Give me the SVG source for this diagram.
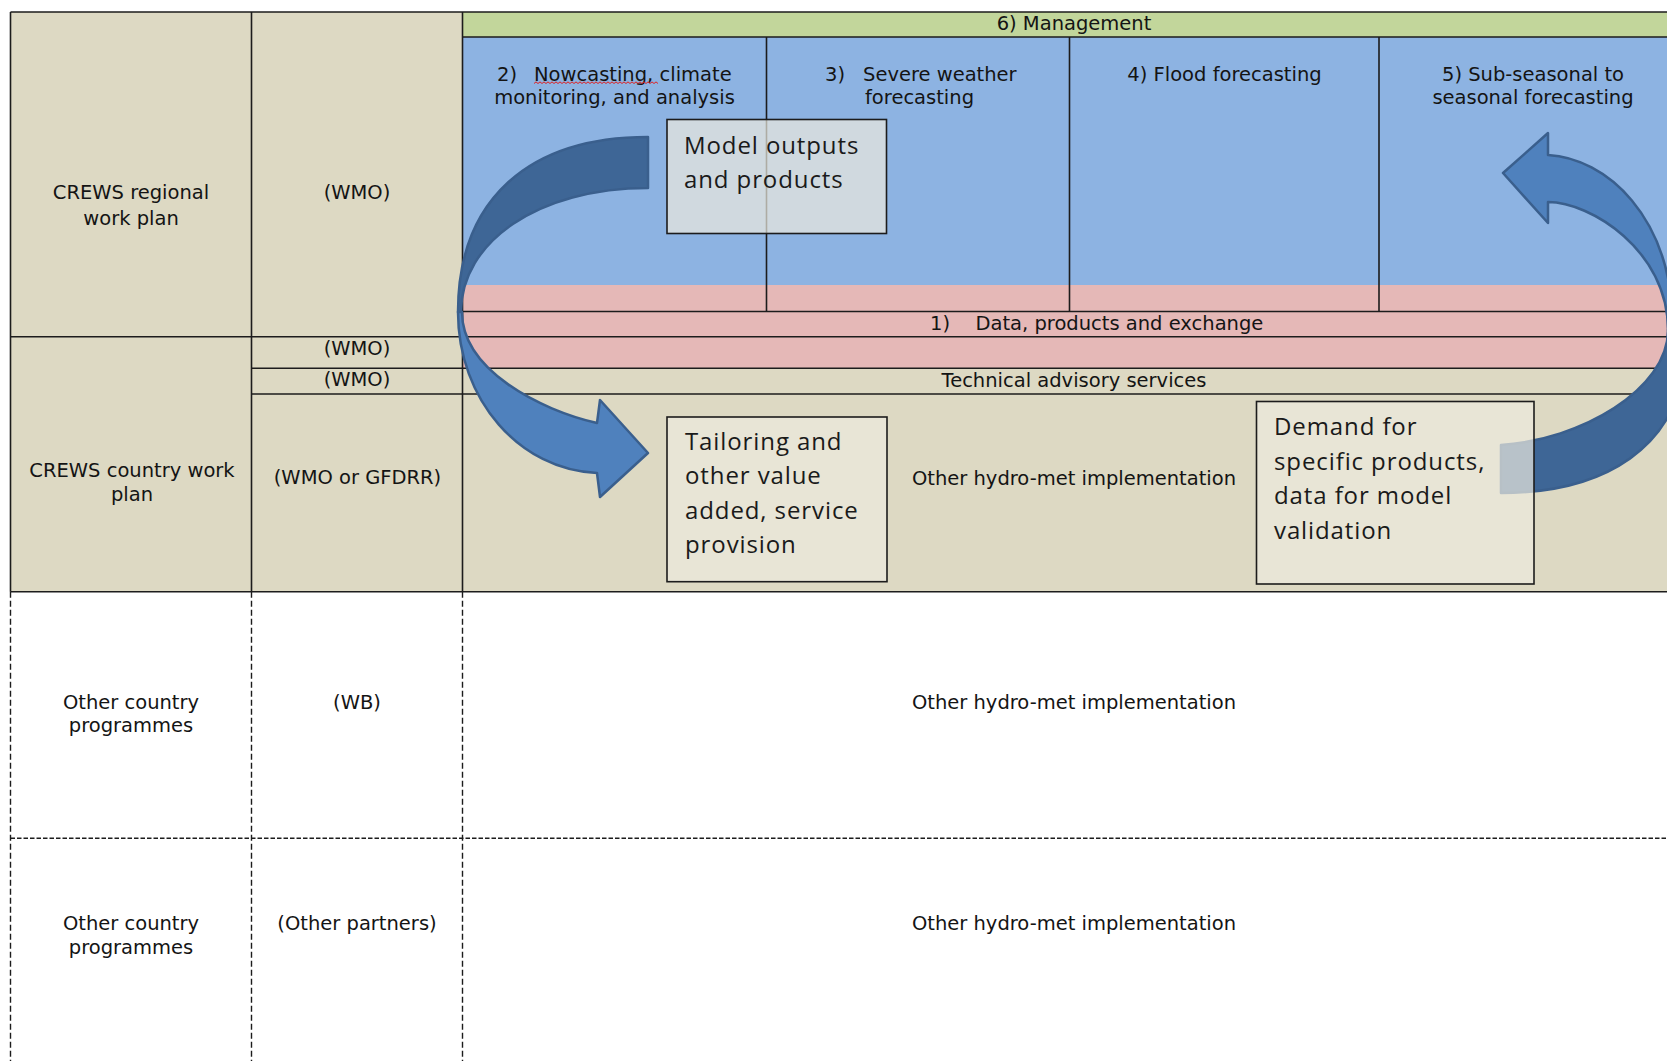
<svg xmlns="http://www.w3.org/2000/svg" width="1667" height="1061" viewBox="0 0 1667 1061">
<defs>
<style>
.t{font-family:"DejaVu Sans",Verdana,sans-serif;font-size:19.5px;fill:#141414}
.m{text-anchor:middle}
.bx{font-family:"Open Sans","Noto Sans",sans-serif;font-size:24px;fill:#1a1a1a;letter-spacing:0.9px}
.ln{stroke:#1c1c1c;stroke-width:1.6;fill:none}
.dl{stroke:#1c1c1c;stroke-width:1.4;stroke-dasharray:6 3;fill:none}
.box{fill:#ede9de;fill-opacity:0.7;stroke:#1c1c1c;stroke-width:1.6}
.front{fill:#4f81bd;stroke:#3a5f8d;stroke-width:2.5;stroke-linejoin:round}
.back{fill:#3e6696;stroke:#3a5f8d;stroke-width:2.5;stroke-linejoin:round}
</style>
</defs>
<rect width="1667" height="1061" fill="#ffffff"/>
<g id="backgrounds">
<rect x="10.5" y="12" width="1656.5" height="580" fill="#ddd9c3"/>
<rect x="462.5" y="12" width="1204.5" height="25" fill="#c2d69b"/>
<rect x="462.5" y="37" width="1204.5" height="248" fill="#8db3e2"/>
<rect x="462.5" y="285" width="1204.5" height="83.3" fill="#e5b8b7"/>
</g>
<g id="grid">
<path class="ln" d="M10.5,12H1667M462.5,37H1667M462.5,311.5H1667M10.5,336.7H1667M251.5,368.3H1667M251.5,394H1667M10.5,591.7H1667"/>
<path class="ln" d="M10.5,12V591.7M251.5,12V591.7M462.5,12V591.7M766.5,37V311.5M1069.5,37V311.5M1379,37V311.5"/>
<path class="dl" d="M10.5,591.7V1061M251.5,591.7V1061M462.5,591.7V1061"/>
<path class="dl" style="stroke-dasharray:4.5 2" d="M10.5,838.3H1667"/>
</g>
<g id="management"><text class="t m" x="1074" y="30">6) Management</text></g>
<g id="nowcasting">
<text class="t" x="497" y="81">2)</text>
<text class="t" x="534" y="81">Nowcasting, climate</text>
<path d="M534,83.5 l2,-1.6 l2,1.6 l2,-1.6 l2,1.6 l2,-1.6 l2,1.6 l2,-1.6 l2,1.6 l2,-1.6 l2,1.6 l2,-1.6 l2,1.6 l2,-1.6 l2,1.6 l2,-1.6 l2,1.6 l2,-1.6 l2,1.6 l2,-1.6 l2,1.6 l2,-1.6 l2,1.6 l2,-1.6 l2,1.6 l2,-1.6 l2,1.6 l2,-1.6 l2,1.6 l2,-1.6 l2,1.6 l2,-1.6 l2,1.6 l2,-1.6 l2,1.6 l2,-1.6 l2,1.6 l2,-1.6 l2,1.6 l2,-1.6 l2,1.6 l2,-1.6 l2,1.6 l2,-1.6 l2,1.6 l2,-1.6 l2,1.6 l2,-1.6 l2,1.6 l2,-1.6 l2,1.6 l2,-1.6 l2,1.6 l2,-1.6 l2,1.6 l2,-1.6 l2,1.6 l2,-1.6 l2,1.6 l2,-1.6 l2,1.6 l2,-1.6 l2,1.6" fill="none" stroke="#e02020" stroke-width="1"/>
<text class="t m" x="614.5" y="104">monitoring, and analysis</text>
</g>
<g id="severe-weather">
<text class="t" x="825" y="81">3)</text>
<text class="t" x="863" y="81">Severe weather</text>
<text class="t" x="865" y="104">forecasting</text>
</g>
<g id="flood"><text class="t m" x="1224.5" y="81">4) Flood forecasting</text></g>
<g id="subseasonal">
<text class="t m" x="1533" y="81">5) Sub-seasonal to</text>
<text class="t m" x="1533" y="104">seasonal forecasting</text>
</g>
<g id="data-row">
<text class="t" x="930" y="330">1)</text>
<text class="t" x="975.5" y="330">Data, products and exchange</text>
</g>
<g id="technical-row"><text class="t m" x="1074" y="386.5">Technical advisory services</text></g>
<g id="crews-regional">
<text class="t m" x="131" y="199">CREWS regional</text>
<text class="t m" x="131" y="224.5">work plan</text>
</g>
<g id="wmo-regional"><text class="t m" x="357" y="199">(WMO)</text></g>
<g id="wmo-data"><text class="t m" x="357" y="355">(WMO)</text></g>
<g id="wmo-technical"><text class="t m" x="357" y="386">(WMO)</text></g>
<g id="crews-country">
<text class="t m" x="132" y="477">CREWS country work</text>
<text class="t m" x="132" y="500.5">plan</text>
</g>
<g id="wmo-gfdrr"><text class="t m" x="357.5" y="484">(WMO or GFDRR)</text></g>
<g id="impl-crews"><text class="t m" x="1074" y="485">Other hydro-met implementation</text></g>
<g id="other-country-1">
<text class="t m" x="131" y="708.5">Other country</text>
<text class="t m" x="131" y="732">programmes</text>
</g>
<g id="wb"><text class="t m" x="357" y="708.5">(WB)</text></g>
<g id="impl-1"><text class="t m" x="1074" y="708.5">Other hydro-met implementation</text></g>
<g id="other-country-2">
<text class="t m" x="131" y="930">Other country</text>
<text class="t m" x="131" y="954">programmes</text>
</g>
<g id="other-partners"><text class="t m" x="357" y="930">(Other partners)</text></g>
<g id="impl-2"><text class="t m" x="1074" y="930">Other hydro-met implementation</text></g>
<g id="connectors">
<path class="back" d="M648,137 C528,137 458,200 458,312 L461,312 C461,242 538,188 648,188 Z"/>
<path class="front" d="M458,312 C458,400 520,470 597,473 L600,497 L648,453 L600,400 L597,423 C540,410 462,370 462,312 Z"/>
<path class="back" d="M1685,345 C1685,450 1600,493 1501,493 L1501,445 C1580,440 1668,390 1668,330 L1680,330 Z"/>
<path class="front" d="M1548,155 C1605,158 1673,215 1673,330 L1668,330 C1668,250 1590,202 1548,202 L1548,223 L1503,173 L1548,133 Z"/>
</g>
<g id="model-outputs">
<rect class="box" x="667" y="119.5" width="219.5" height="114"/>
<text class="bx" x="684" y="154">Model outputs</text>
<text class="bx" x="684" y="187.5">and products</text>
</g>
<g id="tailoring">
<rect class="box" x="667" y="417" width="220" height="164.7"/>
<text class="bx" x="685" y="449.5">Tailoring and</text>
<text class="bx" x="685" y="484">other value</text>
<text class="bx" x="685" y="518.5">added, service</text>
<text class="bx" x="685" y="553">provision</text>
</g>
<g id="demand">
<rect class="box" x="1256.5" y="401.5" width="277.5" height="182.5"/>
<text class="bx" x="1274" y="435">Demand for</text>
<text class="bx" x="1274" y="469.5">specific products,</text>
<text class="bx" x="1274" y="504">data for model</text>
<text class="bx" x="1274" y="538.5">validation</text>
</g>
</svg>
